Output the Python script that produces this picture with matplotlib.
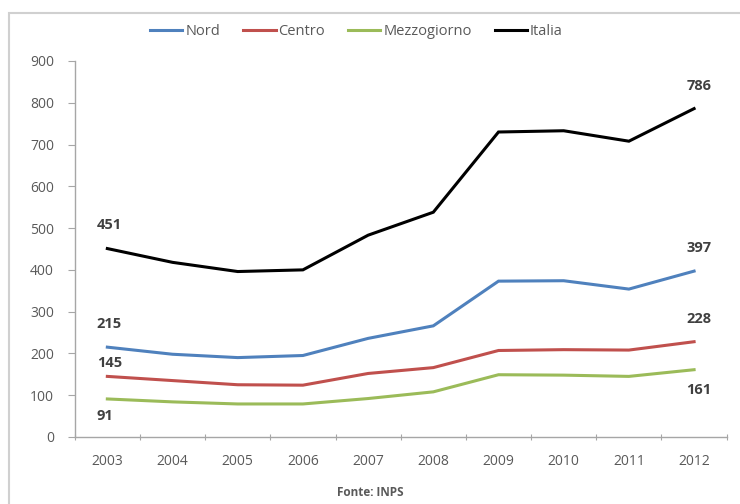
import matplotlib
matplotlib.use("Agg")
import matplotlib.pyplot as plt
from matplotlib.patches import Rectangle
import numpy as np

years = ["2003", "2004", "2005", "2006", "2007", "2008", "2009", "2010", "2011", "2012"]
nord = [215, 198, 190, 195, 236, 266, 373, 374, 354, 397]
centro = [145, 135, 125, 124, 152, 166, 207, 209, 208, 228]
mezzogiorno = [91, 84, 79, 79, 92, 108, 149, 148, 145, 161]
italia = [451, 418, 396, 400, 483, 538, 730, 733, 708, 786]

series = [
    ("Nord", nord, "#4F81BD"),
    ("Centro", centro, "#C0504D"),
    ("Mezzogiorno", mezzogiorno, "#9BBB59"),
    ("Italia", italia, "#000000"),
]

plt.rcParams["font.family"] = ["Open Sans", "DejaVu Sans"]
grey_txt = "#595959"
axis_col = "#A6A6A6"

fig = plt.figure(figsize=(7.4, 5.04), dpi=100)
ax = fig.add_axes([0.101, 0.133, 0.881, 0.746])

x = np.arange(len(years))
for name, vals, col in series:
    ax.plot(x, vals, color=col, linewidth=2.2, label=name, solid_joinstyle="miter")

# data labels at first and last year: (dx_first, dy_first, dx_last, dy_last) in points
label_offsets = {
    "Nord": (1.5, 17, 3.5, 16.5),
    "Centro": (1.5, 9.5, 3.5, 16),
    "Mezzogiorno": (-1.5, -12, 3.5, -14.5),
    "Italia": (1.5, 17, 3.5, 16.5),
}
for name, vals, col in series:
    dx0, dy0, dx1, dy1 = label_offsets[name]
    ax.annotate(str(vals[0]), (x[0], vals[0]), xytext=(dx0, dy0),
                textcoords="offset points", ha="center", va="center",
                fontsize=10.5, fontweight="bold", color="#404040")
    ax.annotate(str(vals[-1]), (x[-1], vals[-1]), xytext=(dx1, dy1),
                textcoords="offset points", ha="center", va="center",
                fontsize=10.5, fontweight="bold", color="#404040")

ax.set_xlim(-0.5, len(years) - 0.5)
ax.set_ylim(0, 900)
ax.set_yticks(np.arange(0, 901, 100))
ax.set_xticks(np.arange(-0.5, len(years), 1.0))
ax.set_xticklabels([])
ax.set_xticks(x, minor=True)
ax.set_xticklabels(years, minor=True)
ax.tick_params(axis="x", which="minor", length=0, pad=12, labelsize=10, labelcolor=grey_txt)
ax.tick_params(axis="x", which="major", length=4, direction="inout", color=axis_col)
ax.tick_params(axis="y", length=5, direction="out", color=axis_col, labelsize=10,
               labelcolor=grey_txt, pad=10)

for s in ["top", "right"]:
    ax.spines[s].set_visible(False)
for s in ["left", "bottom"]:
    ax.spines[s].set_color(axis_col)
    ax.spines[s].set_linewidth(1.0)

fig.legend(loc="center", bbox_to_anchor=(0.482, 0.938), ncol=4, frameon=False,
           fontsize=10.5, handlelength=2.2, handletextpad=0.2, columnspacing=1.6,
           labelcolor=grey_txt)

fig.text(0.50, 0.022, "Fonte: INPS", ha="center", va="center", fontsize=8.5,
         fontweight="bold", color=grey_txt)

# outer chart frame (cut off at right and bottom)
fig.patches.append(Rectangle((0.012, -0.1), 1.2, 0.1 + 0.974, transform=fig.transFigure,
                             fill=False, edgecolor="#D0D0D0", linewidth=1.5))

fig.savefig("out.png", dpi=100)
